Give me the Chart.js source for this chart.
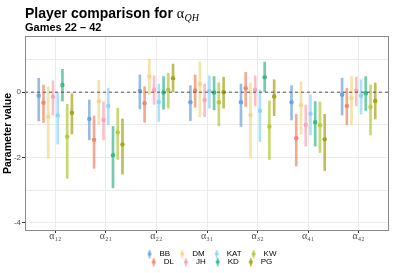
<!DOCTYPE html>
<html>
<head>
<meta charset="utf-8">
<script src="https://cdn.jsdelivr.net/npm/chart.js@4/dist/chart.umd.min.js"></script>
<style>
html, body { margin: 0; padding: 0; background: #ffffff; }
#wrap { width: 393px; height: 273px; }
</style>
</head>
<body>
<div id="wrap"><canvas id="c" width="393" height="273"></canvas></div>
<script>
// ---------------- data ----------------
const categories = ['α₁₂', 'α₂₁', 'α₂₂', 'α₃₁', 'α₃₂', 'α₄₁', 'α₄₂'];
const players = ['BB', 'DL', 'DM', 'JH', 'KAT', 'KD', 'KW', 'PG'];
const yTickValues = [-4, -3, -2, -1, 0, 1];
const yLabelledTicks = [-4, -2, 0];
const referenceValue = 0;

// estimate, lower and upper end of interval, per player, in category order
const BB_est  = [-0.11, -0.82,  0.04, -0.31, -0.31, -0.31, -0.08];
const BB_low  = [-0.88, -1.46, -0.51, -0.87, -1.05, -0.85, -0.70];
const BB_high = [ 0.43, -0.24,  0.53,  0.20,  0.25,  0.20,  0.43];

const DL_est  = [-0.32, -1.46, -0.34,  0.05,  0.12, -1.41, -0.42];
const DL_low  = [-0.93, -2.33, -0.92, -0.46, -0.44, -2.26, -1.00];
const DL_high = [ 0.22, -0.73,  0.17,  0.53,  0.61, -0.68,  0.12];

const DM_est  = [-0.75, -0.28,  0.48,  0.25, -0.70, -0.40, -0.18];
const DM_low  = [-2.03, -0.98, -0.08, -0.75, -2.03, -1.29, -1.00];
const DM_high = [ 0.17,  0.36,  1.01,  0.93,  0.28,  0.31,  0.48];

const JH_est  = [-0.14, -0.85,  0.07, -0.24,  0.07, -1.00,  0.04];
const JH_low  = [-0.70, -1.46, -0.37, -0.75, -0.42, -1.65, -0.42];
const JH_high = [ 0.35, -0.29,  0.50,  0.25,  0.50, -0.39,  0.46];

const KAT_est  = [-0.71, -0.42, -0.30,  0.04, -0.57, -0.66, -0.11];
const KAT_low  = [-1.59, -1.00, -0.90, -0.49, -1.51, -1.31, -0.67];
const KAT_high = [-0.03,  0.12,  0.25,  0.50,  0.07, -0.08,  0.38];

const KD_est  = [ 0.22, -1.93, -0.01, -0.01,  0.46, -0.92, -0.03];
const KD_low  = [-0.27, -2.93, -0.52, -0.54,  0.00, -1.65, -0.56];
const KD_high = [ 0.70, -1.05,  0.48,  0.48,  0.92, -0.29,  0.48];

const KW_est  = [-1.36, -1.23,  0.07, -0.31, -1.05, -1.01, -0.45];
const KW_low  = [-2.64, -2.06, -0.49, -1.03, -2.06, -1.85, -1.31];
const KW_high = [-0.37, -0.49,  0.58,  0.29, -0.27, -0.30,  0.22];

const PG_est  = [-0.63, -1.60,  0.43,  0.00, -0.13, -1.44, -0.27];
const PG_low  = [-1.28, -2.51,  0.00, -0.49, -0.72, -2.40, -0.82];
const PG_high = [-0.05, -0.82,  0.86,  0.46,  0.38, -0.68,  0.28];

const estimates = [BB_est, DL_est, DM_est, JH_est, KAT_est, KD_est, KW_est, PG_est];
const lows      = [BB_low, DL_low, DM_low, JH_low, KAT_low, KD_low, KW_low, PG_low];
const highs     = [BB_high, DL_high, DM_high, JH_high, KAT_high, KD_high, KW_high, PG_high];

// ---------------- style ----------------
const playerColors = ['#6fa3dc', '#f0886a', '#f2d78a', '#f6a6b7', '#8dd5f5', '#39b98b', '#b3c93a', '#a8a41a'];
const SANS = "'Liberation Sans', Arial, Helvetica, sans-serif";
const SERIF = "'Liberation Serif', 'DejaVu Serif', 'Times New Roman', serif";
const dodgeWidth = 0.75;
const xMin = 0.4, xMax = categories.length + 0.6;
const yMin = -4.25, yMax = 1.72;
const legendRows = 2;
const legendBoxWidth = 150;
const whiskerAlpha = 0.72;

function withAlpha(hex, a) {
  const n = parseInt(hex.slice(1), 16);
  return `rgba(${(n >> 16) & 255},${(n >> 8) & 255},${n & 255},${a})`;
}
function dodge(i) {
  return (i - (players.length - 1) / 2) * dodgeWidth / players.length;
}

// legend key icons (point-range glyph)
const legendIcons = playerColors.map(col => {
  const cv = document.createElement('canvas');
  cv.width = 18; cv.height = 9;
  const g = cv.getContext('2d');
  g.strokeStyle = withAlpha(col, whiskerAlpha);
  g.lineWidth = 2;
  g.beginPath(); g.moveTo(12, 0.5); g.lineTo(12, 8.5); g.stroke();
  g.fillStyle = col;
  g.beginPath(); g.arc(12, 4.5, 1.9, 0, Math.PI * 2); g.fill();
  return cv;
});

// legend order: filled by column, two rows
const legendCols = Math.ceil(players.length / legendRows);
const legendOrder = [];
for (let r = 0; r < legendRows; r++) {
  for (let c = 0; c < legendCols; c++) {
    const idx = c * legendRows + r;
    if (idx < players.length) legendOrder.push(idx);
  }
}

// ---------------- datasets ----------------
const datasets = [];
datasets.push({
  type: 'line',
  label: 'reference',
  data: [{ x: xMin, y: referenceValue }, { x: xMax, y: referenceValue }],
  borderColor: '#555555',
  borderWidth: 1,
  borderDash: [3, 3],
  pointRadius: 0,
  order: 0
});
players.forEach((p, i) => {
  datasets.push({
    type: 'scatter',
    label: p,
    data: categories.map((c, k) => ({ x: k + 1 + dodge(i), y: estimates[i][k] })),
    backgroundColor: playerColors[i],
    borderWidth: 0,
    pointRadius: 2.2,
    pointStyle: 'circle',
    order: 1
  });
});
players.forEach((p, i) => {
  datasets.push({
    type: 'bar',
    label: p + ' interval',
    data: categories.map((c, k) => ({ x: k + 1 + dodge(i), y: [lows[i][k], highs[i][k]] })),
    backgroundColor: withAlpha(playerColors[i], whiskerAlpha),
    borderWidth: 0,
    barThickness: 2,
    maxBarThickness: 2,
    grouped: false,
    order: 2
  });
});

// ---------------- plugins ----------------
const titleMain = 'Player comparison for';
const titleSubscriptPlugin = {
  id: 'titleSubscript',
  afterDraw(chart) {
    const tb = chart.titleBlock;
    if (!tb) return;
    const ctx = chart.ctx;
    const f = Chart.helpers.toFont(tb.options.font);
    const pad = Chart.helpers.toPadding(tb.options.padding);
    ctx.save();
    ctx.font = f.string;
    const w = ctx.measureText(titleMain + ' ').width;
    const y = tb.top + pad.top + f.lineHeight / 2;
    ctx.fillStyle = '#000000';
    ctx.textBaseline = 'middle';
    ctx.textAlign = 'left';
    ctx.font = '14px ' + SERIF;
    ctx.fillText('α', tb.left + w, y);
    const aw = ctx.measureText('α').width;
    ctx.font = 'italic 10px ' + SERIF;
    ctx.fillText('QH', tb.left + w + aw + 0.5, y + 4);
    ctx.restore();
  }
};

const legendLayoutPlugin = {
  id: 'legendLayout',
  afterInit(chart) {
    const L = chart.legend;
    if (!L || L._patched) return;
    const origFit = L.fit;
    L.fit = function () {
      const mw = this.maxWidth;
      this.maxWidth = Math.min(mw, legendBoxWidth);
      origFit.call(this);
      this.maxWidth = mw;
      this.height = this.height - 3;
    };
    L._patched = true;
  },
  afterLayout(chart) {
    const L = chart.legend;
    if (!L) return;
    const ca = chart.chartArea;
    const mid = (ca.left + ca.right) / 2;
    L.left = mid - legendBoxWidth / 2;
    L.right = mid + legendBoxWidth / 2;
    L.width = legendBoxWidth;
  }
};

const panelBorderPlugin = {
  id: 'panelBorder',
  afterDatasetsDraw(chart) {
    const { ctx, chartArea: a } = chart;
    ctx.save();
    ctx.strokeStyle = '#8a8a8a';
    ctx.lineWidth = 1;
    const l = Math.round(a.left) + 0.5, t = Math.round(a.top) + 0.5;
    const r = Math.round(a.right) - 0.5, b = Math.round(a.bottom) - 0.5;
    ctx.strokeRect(l, t, r - l, b - t);
    ctx.restore();
  }
};

// ---------------- chart ----------------
new Chart(document.getElementById('c'), {
  type: 'scatter',
  data: { datasets },
  plugins: [titleSubscriptPlugin, legendLayoutPlugin, panelBorderPlugin],
  options: {
    responsive: false,
    animation: false,
    devicePixelRatio: 1,
    events: [],
    layout: { padding: { left: 0, right: 3, top: 0, bottom: 0 } },
    scales: {
      x: {
        type: 'linear',
        min: xMin,
        max: xMax,
        offset: false,
        afterBuildTicks: s => { s.ticks = categories.map((c, i) => ({ value: i + 1 })); },
        afterFit: s => { s.height = 19; },
        ticks: {
          callback: v => categories[v - 1] ?? '',
          font: { family: SERIF, size: 10, lineHeight: 1 },
          color: '#4d4d4d',
          padding: -2,
          maxRotation: 0,
          minRotation: 0,
          autoSkip: false
        },
        grid: { color: '#ebebeb', lineWidth: 1, tickLength: 2, tickColor: '#333333', offset: false },
        border: { display: false }
      },
      y: {
        type: 'linear',
        min: yMin,
        max: yMax,
        afterBuildTicks: s => { s.ticks = yTickValues.map(v => ({ value: v })); },
        afterFit: s => { s.width = 25; },
        ticks: {
          callback: v => yLabelledTicks.includes(v) ? String(v) : '',
          font: { family: SANS, size: 8 },
          color: '#4d4d4d',
          padding: 1
        },
        grid: {
          color: '#ebebeb',
          lineWidth: 1,
          tickLength: 3,
          tickColor: c => (c.tick && yLabelledTicks.includes(c.tick.value)) ? '#333333' : 'rgba(0,0,0,0)'
        },
        border: { display: false },
        title: {
          display: true,
          text: 'Parameter value',
          font: { family: SANS, size: 10.5, weight: 'bold' },
          color: '#000000',
          padding: { top: 2, bottom: 0 }
        }
      }
    },
    plugins: {
      title: {
        display: true,
        text: titleMain,
        align: 'start',
        fullSize: false,
        color: '#000000',
        font: { family: SANS, size: 14, weight: 'bold', lineHeight: 1 },
        padding: { top: 7, bottom: 0 }
      },
      subtitle: {
        display: true,
        text: 'Games 22 – 42',
        align: 'start',
        fullSize: false,
        color: '#000000',
        font: { family: SANS, size: 11, weight: 'bold', lineHeight: 1 },
        padding: { top: 1, bottom: 3 }
      },
      legend: {
        display: true,
        position: 'bottom',
        align: 'center',
        fullSize: false,
        labels: {
          usePointStyle: true,
          pointStyleWidth: 18,
          boxHeight: 8,
          padding: 0,
          color: '#1a1a1a',
          font: { family: SANS, size: 8 },
          generateLabels: () => legendOrder.map(i => ({
            text: players[i],
            pointStyle: legendIcons[i],
            fillStyle: playerColors[i],
            strokeStyle: playerColors[i],
            lineWidth: 0,
            hidden: false,
            datasetIndex: 1 + i
          }))
        }
      },
      tooltip: { enabled: false }
    }
  }
});
</script>
</body>
</html>
